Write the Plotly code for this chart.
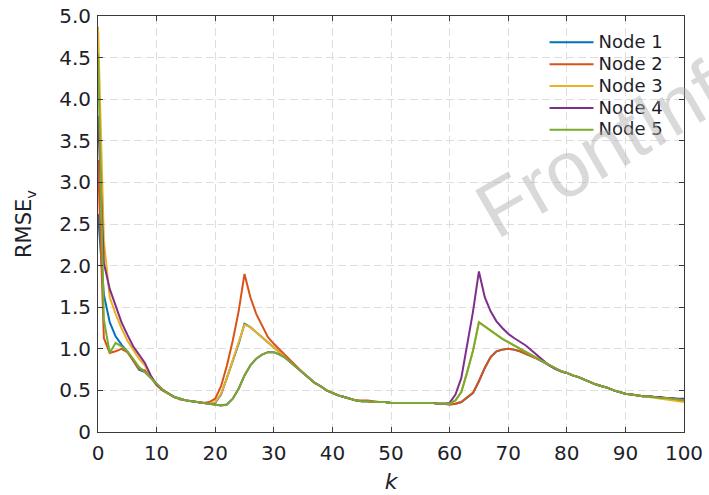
import plotly.graph_objects as go

# Time steps
k = list(range(0, 101))

# RMSE of velocity estimate per node
node1 = [2.62, 1.65, 1.32, 1.15, 1.05, 0.97, 0.86, 0.75, 0.72, 0.65,
         0.57, 0.51, 0.46, 0.42, 0.40, 0.38, 0.37, 0.36, 0.35, 0.34,
         0.35, 0.45, 0.65, 0.86, 1.06, 1.30, 1.26, 1.20, 1.14, 1.08,
         1.02, 0.96, 0.90, 0.83, 0.77, 0.71, 0.65, 0.59, 0.55, 0.50,
         0.47, 0.44, 0.42, 0.40, 0.38, 0.37, 0.37, 0.36, 0.36, 0.36,
         0.35, 0.35, 0.35, 0.35, 0.35, 0.35, 0.35, 0.35, 0.34, 0.34,
         0.33, 0.34, 0.36, 0.41, 0.47, 0.61, 0.77, 0.90, 0.97, 0.99,
         1.00, 0.99, 0.97, 0.94, 0.91, 0.88, 0.84, 0.80, 0.76, 0.73,
         0.71, 0.68, 0.66, 0.63, 0.60, 0.57, 0.55, 0.53, 0.50, 0.48,
         0.46, 0.45, 0.44, 0.43, 0.43, 0.42, 0.41, 0.41, 0.40, 0.39,
         0.38]

node2 = [3.27, 1.13, 0.95, 0.97, 1.00, 0.96, 0.86, 0.76, 0.74, 0.66,
         0.56, 0.50, 0.46, 0.42, 0.39, 0.38, 0.37, 0.36, 0.35, 0.36,
         0.40, 0.55, 0.80, 1.10, 1.45, 1.90, 1.62, 1.42, 1.27, 1.14,
         1.06, 0.99, 0.92, 0.84, 0.77, 0.71, 0.65, 0.59, 0.55, 0.50,
         0.47, 0.44, 0.42, 0.40, 0.38, 0.38, 0.38, 0.37, 0.36, 0.36,
         0.35, 0.35, 0.35, 0.35, 0.35, 0.35, 0.35, 0.35, 0.34, 0.34,
         0.33, 0.34, 0.36, 0.41, 0.47, 0.61, 0.77, 0.90, 0.97, 0.99,
         1.00, 0.99, 0.97, 0.94, 0.91, 0.88, 0.84, 0.80, 0.76, 0.73,
         0.71, 0.68, 0.66, 0.63, 0.60, 0.57, 0.55, 0.53, 0.50, 0.48,
         0.46, 0.45, 0.44, 0.43, 0.43, 0.42, 0.41, 0.41, 0.40, 0.39,
         0.38]

node3 = [4.87, 2.30, 1.62, 1.42, 1.25, 1.10, 0.99, 0.88, 0.80, 0.67,
         0.57, 0.51, 0.46, 0.42, 0.39, 0.38, 0.37, 0.36, 0.35, 0.34,
         0.36, 0.46, 0.65, 0.86, 1.06, 1.29, 1.26, 1.20, 1.14, 1.08,
         1.02, 0.96, 0.90, 0.83, 0.77, 0.71, 0.65, 0.59, 0.55, 0.50,
         0.47, 0.44, 0.42, 0.40, 0.38, 0.37, 0.37, 0.36, 0.36, 0.36,
         0.35, 0.35, 0.35, 0.35, 0.35, 0.35, 0.35, 0.35, 0.34, 0.34,
         0.34, 0.38, 0.48, 0.72, 0.98, 1.32, 1.27, 1.22, 1.16, 1.12,
         1.08, 1.04, 1.00, 0.97, 0.93, 0.89, 0.84, 0.80, 0.76, 0.73,
         0.71, 0.68, 0.66, 0.63, 0.60, 0.57, 0.55, 0.53, 0.50, 0.48,
         0.46, 0.45, 0.44, 0.43, 0.42, 0.41, 0.40, 0.39, 0.38, 0.37,
         0.36]

node4 = [3.80, 2.03, 1.72, 1.52, 1.32, 1.17, 1.03, 0.93, 0.83, 0.68,
         0.57, 0.51, 0.46, 0.42, 0.40, 0.38, 0.37, 0.36, 0.35, 0.34,
         0.33, 0.32, 0.33, 0.40, 0.52, 0.68, 0.80, 0.88, 0.93, 0.96,
         0.96, 0.93, 0.89, 0.83, 0.77, 0.71, 0.65, 0.59, 0.55, 0.50,
         0.47, 0.44, 0.42, 0.40, 0.38, 0.37, 0.37, 0.36, 0.36, 0.36,
         0.35, 0.35, 0.35, 0.35, 0.35, 0.35, 0.35, 0.35, 0.34, 0.34,
         0.35, 0.45, 0.65, 1.05, 1.45, 1.93, 1.62, 1.45, 1.33, 1.25,
         1.18, 1.13, 1.09, 1.04, 0.98, 0.92, 0.85, 0.80, 0.76, 0.73,
         0.71, 0.68, 0.66, 0.63, 0.60, 0.57, 0.55, 0.53, 0.50, 0.48,
         0.46, 0.45, 0.44, 0.43, 0.43, 0.42, 0.42, 0.41, 0.41, 0.40,
         0.40]

node5 = [4.55, 1.35, 0.95, 1.07, 1.03, 0.97, 0.88, 0.78, 0.72, 0.65,
         0.57, 0.51, 0.46, 0.42, 0.40, 0.38, 0.37, 0.36, 0.35, 0.34,
         0.33, 0.32, 0.33, 0.40, 0.52, 0.68, 0.80, 0.88, 0.93, 0.96,
         0.96, 0.93, 0.89, 0.83, 0.77, 0.71, 0.65, 0.59, 0.55, 0.50,
         0.47, 0.44, 0.42, 0.40, 0.38, 0.37, 0.37, 0.36, 0.36, 0.36,
         0.35, 0.35, 0.35, 0.35, 0.35, 0.35, 0.35, 0.35, 0.34, 0.34,
         0.34, 0.38, 0.48, 0.72, 0.98, 1.32, 1.27, 1.22, 1.16, 1.12,
         1.08, 1.04, 1.00, 0.97, 0.93, 0.89, 0.84, 0.80, 0.76, 0.73,
         0.71, 0.68, 0.66, 0.63, 0.60, 0.57, 0.55, 0.53, 0.50, 0.48,
         0.46, 0.45, 0.44, 0.43, 0.43, 0.42, 0.41, 0.41, 0.40, 0.39,
         0.38]

series_names = ["Node 1", "Node 2", "Node 3", "Node 4", "Node 5"]
series_values = [node1, node2, node3, node4, node5]
series_colors = ["#0072BD", "#D95319", "#EDB120", "#7E2F8E", "#77AC30"]

x_ticks = [0, 10, 20, 30, 40, 50, 60, 70, 80, 90, 100]
y_ticks = [0, 0.5, 1.0, 1.5, 2.0, 2.5, 3.0, 3.5, 4.0, 4.5, 5.0]
y_tick_labels = ["0", "0.5", "1.0", "1.5", "2.0", "2.5", "3.0", "3.5", "4.0", "4.5", "5.0"]

FONT = "DejaVu Sans, Arial, sans-serif"
INK = "#1e1e2a"

fig = go.Figure()
for name, vals, col in zip(series_names, series_values, series_colors):
    # legend rows are packed tightly: small legend font for spacing, larger glyphs
    fig.add_trace(go.Scatter(x=k, y=vals, mode="lines",
                             name=f"<span style='font-size:18px'>{name}</span>",
                             line=dict(color=col, width=2)))

axis_common = dict(
    showline=True, linecolor="#3a3a3a", linewidth=1, mirror="ticks",
    ticks="inside", ticklen=5, tickcolor="#3a3a3a",
    showgrid=True, gridcolor="#dedede", griddash="8px,4px", gridwidth=1,
    zeroline=False, automargin=False,
    tickfont=dict(family=FONT, size=20, color=INK),
)

fig.update_xaxes(range=[0, 100], tickvals=x_ticks, ticklabelstandoff=3, **axis_common,
                 title=dict(text="<i>k</i>", font=dict(family=FONT, size=22, color=INK),
                            standoff=9))
fig.update_yaxes(range=[0, 5], tickvals=y_ticks, ticktext=y_tick_labels,
                 ticklabelstandoff=2, **axis_common,
                 title=dict(text="RMSE<sub>v</sub>", font=dict(family=FONT, size=21, color=INK),
                            standoff=21))

# faint publisher watermark, running off the top-right corner
fig.add_annotation(text="FrontInfo", xref="paper", yref="paper", x=1.16, y=0.99,
                   showarrow=False, textangle=-30,
                   font=dict(family="Liberation Sans, Arial, sans-serif", size=78,
                             color="rgba(170,170,170,0.45)"))

fig.update_layout(
    width=709, height=495,
    margin=dict(l=98, r=25, t=16, b=63),
    paper_bgcolor="white", plot_bgcolor="white",
    legend=dict(x=0.762, y=0.975, xanchor="left", yanchor="top",
                bgcolor="rgba(0,0,0,0)", borderwidth=0,
                font=dict(family=FONT, size=14.5, color=INK),
                itemwidth=44, tracegroupgap=0),
    showlegend=True,
)

fig.write_html("out.html")
